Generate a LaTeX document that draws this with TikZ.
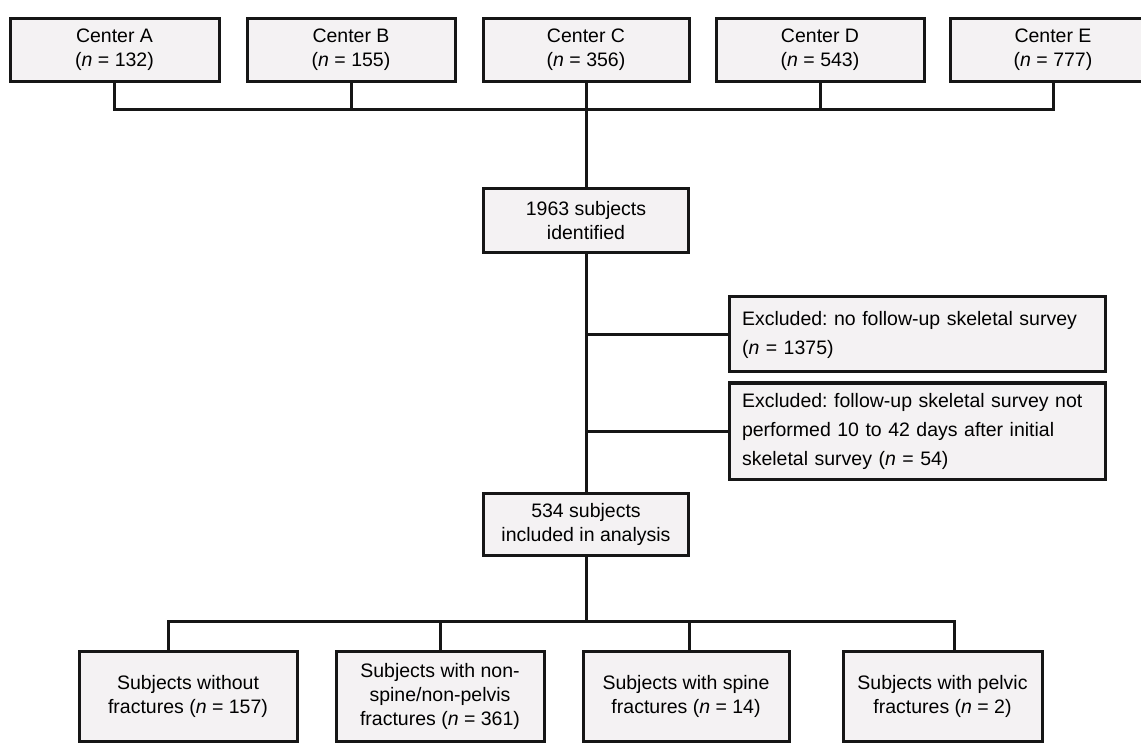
\documentclass[tikz,border=0pt]{standalone}
\usepackage{fontspec}
\setmainfont{Liberation Sans}
\frenchspacing
\definecolor{boxfill}{HTML}{F4F2F3}
\definecolor{inkline}{HTML}{161616}
\tikzset{
  centerbox/.style={draw=inkline, line width=3pt, fill=boxfill, align=center,
    inner sep=0pt, font=\fontsize{19.5}{24}\selectfont},
  exclbox/.style={draw=inkline, line width=3pt, fill=boxfill, align=left,
    inner xsep=13pt, inner ysep=0pt, text width=350pt, font=\fontsize{19.5}{29}\selectfont},
  link/.style={draw=inkline, line width=3pt}
}
\begin{document}
\begin{tikzpicture}[x=1pt, y=-1pt]
        \useasboundingbox (0,0) rectangle (1141,743);
        \clip (0,0) rectangle (1141,743);

        % Define centers
        \node[centerbox, minimum width=209pt, minimum height=63pt] (ctrA) at (114.5,50) {Center A\\(\textit{n} = 132)};
        \node[centerbox, minimum width=208pt, minimum height=63pt] (ctrB) at (351,50) {Center B\\(\textit{n} = 155)};
        \node[centerbox, minimum width=206pt, minimum height=63pt] (ctrC) at (586,50) {Center C\\(\textit{n} = 356)};
        \node[centerbox, minimum width=208pt, minimum height=63pt] (ctrD) at (820,50) {Center D\\(\textit{n} = 543)};
        \node[centerbox, minimum width=206pt, minimum height=63pt] (ctrE) at (1053,50) {Center E\\(\textit{n} = 777)};

        % Define main flow
        \node[centerbox, minimum width=205pt, minimum height=64pt] (ident) at (586,221) {1963 subjects\\identified};
        \node[exclbox, minimum height=75pt] (exclA) at (917,334.5) {Excluded: no follow-up skeletal survey\\(\textit{n} = 1375)};
        \node[exclbox, minimum height=96pt] (exclB) at (917,431) {Excluded: follow-up skeletal survey not\\performed 10 to 42 days after initial\\skeletal survey (\textit{n} = 54)};
        \node[centerbox, minimum width=205pt, minimum height=62pt] (incl) at (586,524) {534 subjects\\included in analysis};

        % Define outcome groups
        \node[centerbox, minimum width=218pt, minimum height=90pt] (grpNone) at (188,696) {Subjects without\\fractures (\textit{n} = 157)};
        \node[centerbox, minimum width=208pt, minimum height=90pt] (grpOther) at (440,696) {Subjects with non-\\spine/non-pelvis\\fractures (\textit{n} = 361)};
        \node[centerbox, minimum width=206pt, minimum height=90pt] (grpSpine) at (686,696) {Subjects with spine\\fractures (\textit{n} = 14)};
        \node[centerbox, minimum width=199pt, minimum height=90pt] (grpPelvic) at (942.5,696) {Subjects with pelvic\\fractures (\textit{n} = 2)};

        \coordinate (topjoin) at (586,110);
        \coordinate (botjoin) at (586,621);

        % Draw center links
        \draw[link] (ctrA.south) |- (topjoin);
        \draw[link] (ctrB.south) |- (topjoin);
        \draw[link] (ctrD.south) |- (topjoin);
        \draw[link] (ctrE.south) |- (topjoin);
        \draw[link] (ctrC.south) -- (ident.north);

        % Draw exclusions
        \draw[link] (ident.south) -- (incl.north);
        \draw[link] (exclA.west) -- (exclA.west -| ident.south);
        \draw[link] (exclB.west) -- (exclB.west -| ident.south);

        % Draw outcome links
        \draw[link] (incl.south) -- (botjoin);
        \draw[link] (botjoin) -| ([xshift=-20pt]grpNone.north);
        \draw[link] (botjoin) -| (grpOther.north);
        \draw[link] (botjoin) -| ([xshift=3pt]grpSpine.north);
        \draw[link] (botjoin) -| ([xshift=12pt]grpPelvic.north);
    \end{tikzpicture}
\end{document}
